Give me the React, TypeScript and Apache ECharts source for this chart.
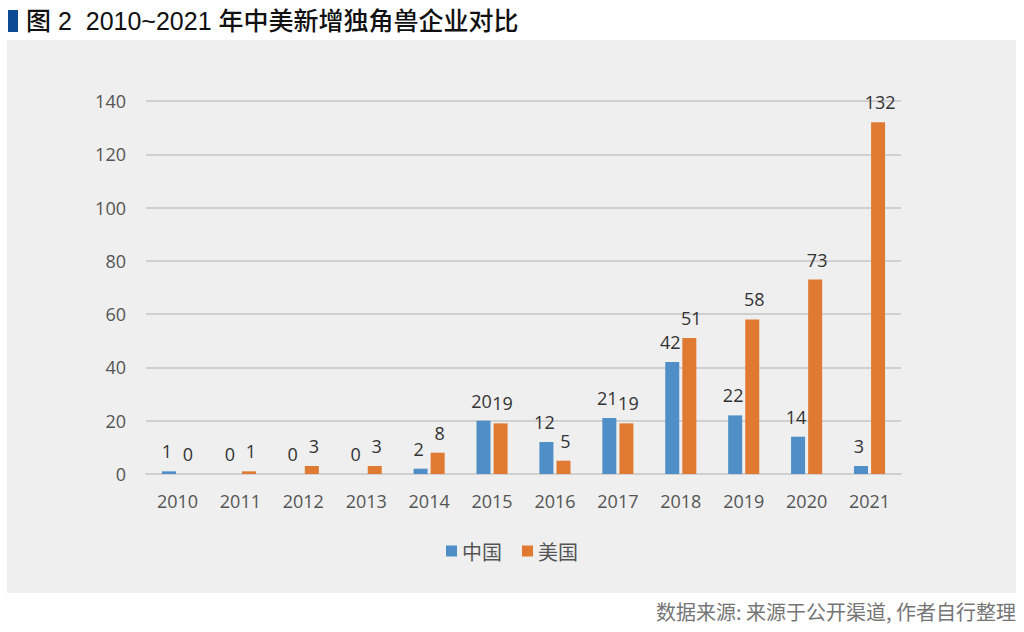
import React, { useEffect, useRef } from "react";
import * as echarts from "echarts";

const years = ["2010", "2011", "2012", "2013", "2014", "2015", "2016", "2017", "2018", "2019", "2020", "2021"];
const china = [1, 0, 0, 0, 2, 20, 12, 21, 42, 22, 14, 3];
const usa = [0, 1, 3, 3, 8, 19, 5, 19, 51, 58, 73, 132];
const seriesNames = ["中国", "美国"];
const titleText = "图 2  2010~2021 年中美新增独角兽企业对比";
const sourceText = "数据来源: 来源于公开渠道, 作者自行整理";

const FONT = "'Noto Sans CJK SC', 'Noto Sans', sans-serif";
const TITLE_FONT = "'Liberation Sans', 'Noto Sans CJK SC', sans-serif";
const LABEL_FONT = "'Open Sans', 'Noto Sans', sans-serif";

export default function App() {
  const ref = useRef<HTMLDivElement>(null);
  useEffect(() => {
    const chart = echarts.init(ref.current!, null, { renderer: "svg" });
    const labelStyle = {
      show: true,
      position: "top" as const,
      distance: 11,
      color: "#333333",
      fontSize: 18,
      fontFamily: LABEL_FONT,
    };
    chart.setOption({
      animation: false,
      backgroundColor: "#ffffff",
      graphic: [
        { type: "rect", shape: { x: 7, y: 40, width: 1009, height: 553 }, style: { fill: "#eeefee" }, z: -10 },
        { type: "rect", shape: { x: 8, y: 10, width: 10, height: 22 }, style: { fill: "#0d4b94" } },
        {
          type: "text",
          x: 26,
          y: 21,
          style: {
            text: titleText,
            fill: "#111111",
            font: `500 25px ${TITLE_FONT}`,
            textVerticalAlign: "middle",
          },
        },
        {
          type: "text",
          x: 1016,
          y: 611,
          style: {
            text: sourceText,
            fill: "#757575",
            font: `20px ${FONT}`,
            textAlign: "right",
            textVerticalAlign: "middle",
          },
        },
      ],
      legend: {
        data: seriesNames,
        left: "center",
        top: 536,
        itemWidth: 11,
        itemHeight: 11,
        itemGap: 20,
        icon: "rect",
        textStyle: { color: "#555555", fontSize: 20, fontFamily: FONT },
      },
      grid: { left: 146, right: 123, top: 101, bottom: 158 },
      xAxis: {
        type: "category",
        data: years,
        axisLine: { lineStyle: { color: "#d0d0d0", width: 2 } },
        axisTick: { show: false },
        axisLabel: { color: "#555555", fontSize: 18, fontFamily: LABEL_FONT, margin: 18 },
      },
      yAxis: {
        type: "value",
        min: 0,
        max: 140,
        interval: 20,
        axisLine: { show: false },
        axisTick: { show: false },
        splitLine: { lineStyle: { color: "#d0d0d0", width: 2 } },
        axisLabel: { color: "#555555", fontSize: 18, fontFamily: LABEL_FONT, margin: 20 },
      },
      series: [
        {
          name: seriesNames[0],
          type: "bar",
          data: china,
          barWidth: 14,
          barGap: "22%",
          itemStyle: { color: "#4f8ec6" },
          label: { ...labelStyle, offset: [-2, 0] },
        },
        {
          name: seriesNames[1],
          type: "bar",
          data: usa,
          barWidth: 14,
          itemStyle: { color: "#e07a32" },
          label: { ...labelStyle, offset: [2, 0] },
        },
      ],
    });
    return () => chart.dispose();
  }, []);
  return <div ref={ref} style={{ position: "absolute", left: 0, top: 0, width: 1024, height: 632 }} />;
}
